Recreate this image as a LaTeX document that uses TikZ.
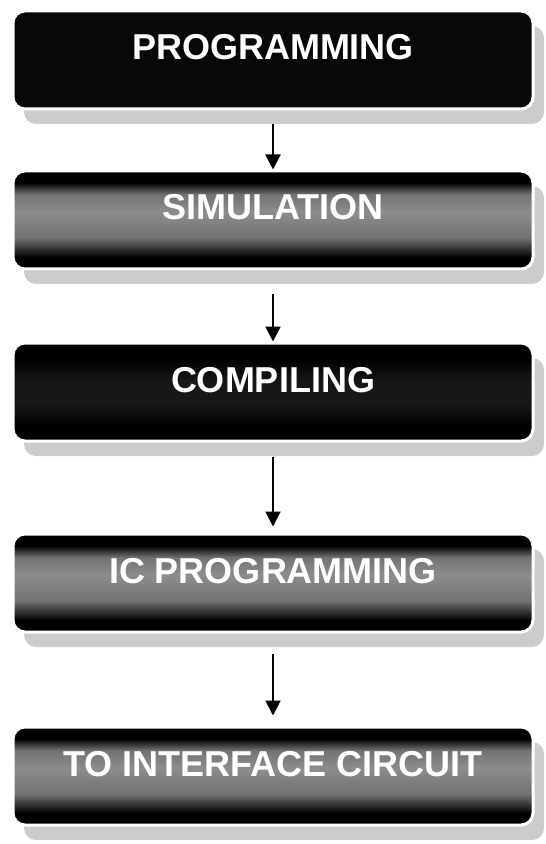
\documentclass[tikz,border=0pt]{standalone}
\usepackage{fontspec}
\setmainfont{Liberation Sans}
\usetikzlibrary{positioning,shadows,arrows.meta}

\definecolor{bandgrey}{gray}{0.45}
\definecolor{bandlight}{gray}{0.55}
\definecolor{nightgrey}{gray}{0.09}
\definecolor{shadowgrey}{gray}{0.8}
\pgfdeclareverticalshading{greyband}{100bp}{color(0bp)=(black); color(31bp)=(black); color(41bp)=(bandgrey); color(54bp)=(bandlight); color(63bp)=(bandgrey); color(69bp)=(black); color(100bp)=(black)}
\pgfdeclareverticalshading{darkband}{100bp}{color(0bp)=(black); color(32bp)=(black); color(44bp)=(nightgrey); color(56bp)=(nightgrey); color(66bp)=(black); color(100bp)=(black)}

\begin{document}
\begin{tikzpicture}[x=0.5pt, y=-0.5pt,
        stagebox/.style={rectangle, rounded corners=6pt, draw=white, line width=1.5pt, minimum width=260pt, text height=24.5pt, text depth=24.5pt, inner ysep=0pt, text=white, font=\fontsize{18}{21}\selectfont\bfseries, drop shadow={shadow xshift=5.5pt, shadow yshift=-7.5pt, fill=shadowgrey, opacity=1}},
        nightstage/.style={stagebox, fill=black!97},
        blackstage/.style={stagebox, shading=darkband},
        greystage/.style={stagebox, shading=greyband},
        flowarrow/.style={-{Triangle[length=7.5pt,width=7.5pt]}, line width=1pt, black},
]
        \useasboundingbox (0,0) rectangle (545,844);

        \node[nightstage] (prog) at (273,60) {PROGRAMMING};
        \node[greystage] (sim) [below=29.5pt of prog] {SIMULATION};
        \node[blackstage] (comp) [below=35.5pt of sim] {COMPILING};
        \node[greystage] (icprog) [below=45pt of comp] {IC PROGRAMMING};
        \node[greystage] (iface) [below=46pt of icprog] {TO INTERFACE CIRCUIT};

        \draw[flowarrow] ([yshift=-7pt]prog.south) -- (sim.north);
        \draw[flowarrow] ([yshift=-11.5pt]sim.south) -- (comp.north);
        \draw[flowarrow, shorten >=3pt] ([yshift=-7pt]comp.south) -- (icprog.north);
        \draw[flowarrow, shorten >=5pt] ([yshift=-10pt]icprog.south) -- (iface.north);
    \end{tikzpicture}
\end{document}
